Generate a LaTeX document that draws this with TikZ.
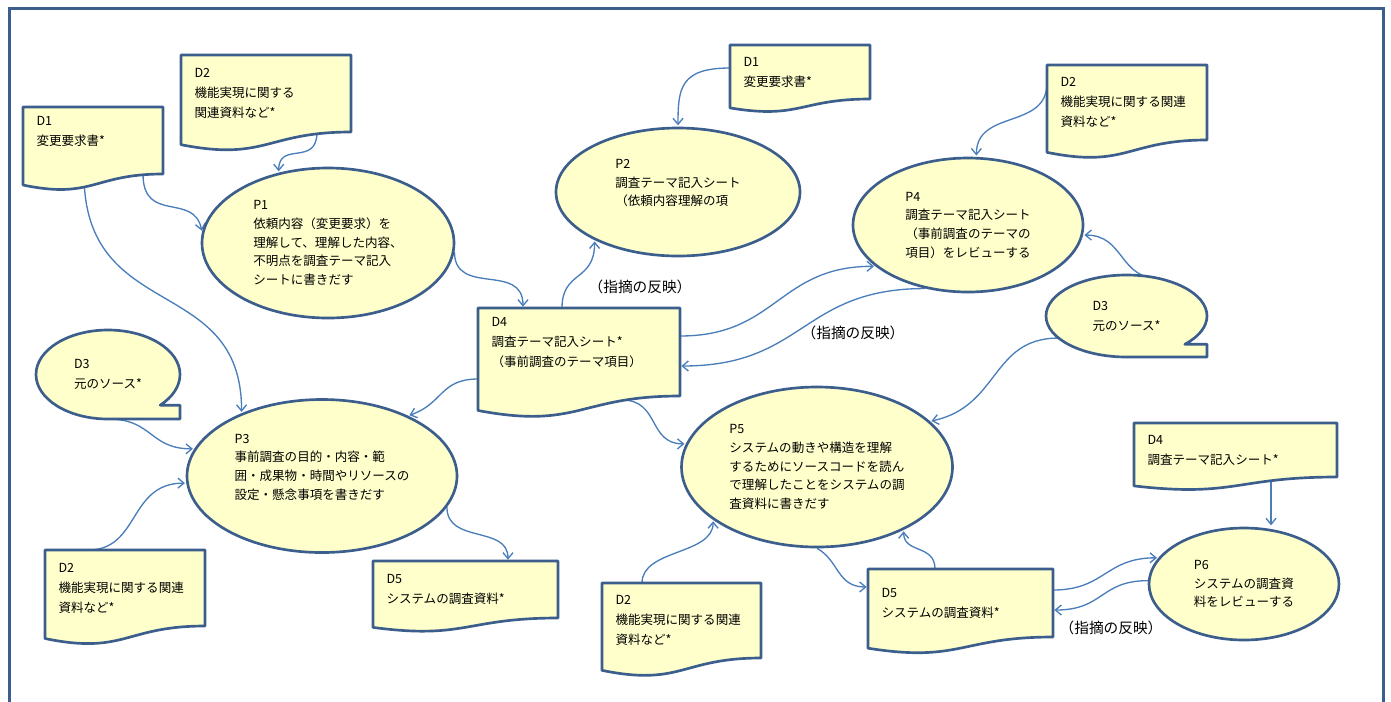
\documentclass[tikz,border=0pt]{standalone}
\usepackage{fontspec}
\setmainfont{Noto Sans CJK JP}
\usetikzlibrary{shapes.geometric, arrows.meta, calc}
\definecolor{lineblue}{HTML}{3B5E8C}
\definecolor{arrowblue}{HTML}{4A7EBB}
\definecolor{noteyellow}{HTML}{FFFFCC}
\pgfdeclarelayer{conn}
\pgfdeclarelayer{shapes}
\pgfsetlayers{conn,shapes,main}

\begin{document}
\begin{tikzpicture}[x=0.75pt, y=-0.75pt,
	proc/.style={ellipse, draw=lineblue, fill=noteyellow, line width=2pt, inner sep=0pt, align=left, font=\fontsize{9.4pt}{14pt}\selectfont},
	doc/.style={rectangle, anchor=north west, inner xsep=10.125pt, inner ysep=0pt, outer sep=0pt, align=left, font=\fontsize{9.4pt}{15pt}\selectfont},
	tape/.style={ellipse, inner sep=0pt, outer sep=0pt, align=left, font=\fontsize{9.4pt}{15pt}\selectfont},
	shapeline/.style={draw=lineblue, fill=noteyellow, line width=2pt, line join=round},
	flow/.style={draw=arrowblue, line width=1pt, -{Straight Barb[length=4.5pt, width=7.5pt]}, shorten >=1pt},
	fbtext/.style={font=\fontsize{11pt}{13pt}\selectfont, inner sep=0pt}]
	\path[use as bounding box, clip] (0,0) rectangle (1391,701);
	\draw[draw=lineblue, line width=2.25pt] (9,8) rectangle (1383,720);

	\node[proc, minimum width=189pt, minimum height=112.5pt] (P1) at (328,243) {P1\\依頼内容（変更要求）を\\理解して、理解した内容、\\不明点を調査テーマ記入\\シートに書きだす};
	\node[proc, minimum width=183pt, minimum height=96pt] (P2) at (678,192) {P2\\調査テーマ記入シート\\（依頼内容理解の項\\\mbox{}};
	\node[proc, minimum width=202.5pt, minimum height=114.75pt] (P3) at (322,476) {P3\\事前調査の目的・内容・範\\囲・成果物・時間やリソースの\\設定・懸念事項を書きだす\\\mbox{}};
	\node[proc, minimum width=172.5pt, minimum height=100.5pt] (P4) at (968,225) {P4\\調査テーマ記入シート\\（事前調査のテーマの\\項目）をレビューする};
	\node[proc, minimum width=203.25pt, minimum height=120pt] (P5) at (817,467) {P5\\システムの動きや構造を理解\\するためにソースコードを読ん\\で理解したことをシステムの調\\査資料に書きだす};
	\node[proc, minimum width=142.5pt, minimum height=84pt] (P6) at (1244,584) {P6\\システムの調査資\\料をレビューする};

	\node[doc, minimum width=105pt, minimum height=50.25pt, text width=84.75pt] (D1a) at (23,107) {D1\\変更要求書*\\\mbox{}};
	\node[doc, minimum width=127.5pt, minimum height=57.75pt, text width=107.25pt] (D2a) at (181,55) {D2\\機能実現に関する\\関連資料など*};
	\node[doc, minimum width=105pt, minimum height=40.5pt, text width=84.75pt] (D1b) at (730,45) {D1\\変更要求書*};
	\node[doc, minimum width=120pt, minimum height=56.25pt, text width=99.75pt] (D2b) at (1047,65) {D2\\機能実現に関する関連\\資料など*};
	\node[doc, minimum width=151.5pt, minimum height=66pt, text width=131.25pt] (D4) at (478,308) {D4\\調査テーマ記入シート*\\（事前調査のテーマ項目）\\\mbox{}};
	\node[doc, minimum width=120pt, minimum height=57pt, text width=99.75pt] (D2c) at (45,550) {D2\\機能実現に関する関連\\資料など*};
	\node[doc, minimum width=138.75pt, minimum height=42.75pt, text width=118.5pt] (D5a) at (373,561) {D5\\システムの調査資料*};
	\node[doc, minimum width=152.25pt, minimum height=40.5pt, text width=132pt] (D4c) at (1134,423) {D4\\調査テーマ記入シート*};
	\node[doc, minimum width=138.75pt, minimum height=51pt, text width=118.5pt] (D5b) at (868,569) {D5\\システムの調査資料*};
	\node[doc, minimum width=119.25pt, minimum height=56.25pt, text width=99pt] (D2d) at (602,583) {D2\\機能実現に関する関連\\資料など*};

	\node[tape, minimum width=108pt, minimum height=66.75pt] (D3a) at (108,374.5) {D3\\元のソース*};
	\node[tape, minimum width=120.75pt, minimum height=61.5pt] (D3b) at (1126.5,316) {D3\\元のソース*};

	\node[fbtext] (fb1) at (640,287) {（指摘の反映）};
	\node[fbtext] (fb2) at (853,333) {（指摘の反映）};
	\node[fbtext] (fb3) at (1111,628) {（指摘の反映）};

	\begin{pgfonlayer}{shapes}
		\foreach \d in {D1a,D2a,D1b,D2b,D4,D2c,D5a,D4c,D5b,D2d}
			\draw[shapeline] let \p1=(\d.north west), \p2=(\d.south east), \n1={\y1-\y2} in
				(\p1) -- (\x2,\y1) -- (\p2) .. controls ({(\x1+\x2)/2},\y2) and ({(\x1+\x2)/2},{\y2-0.381*\n1}) .. (\x1,{\y2-0.1646*\n1}) -- cycle;
		\foreach \d in {D3a,D3b}
			\draw[shapeline] let \p0=(\d.center), \p1=(\d.east), \p2=(\d.north), \n1={\x1-\x0}, \n2={\y2-\y0} in
				(\d.south) arc[start angle=270, end angle=-43.6, x radius={\n1*1pt}, y radius={\n2*1pt}] -- (\x1,{\y0-0.689*\n2}) -- (\x1,{\y0-\n2}) -- cycle;
	\end{pgfonlayer}

	\coordinate (d4out) at ([xshift=102.75pt]D4c.south west);
	\begin{pgfonlayer}{conn}
		\draw[flow] ([xshift=45.75pt]D1a.south west) .. controls +(0,150) and +(0,-140) .. (P3.142);
		\draw[flow] ([xshift=90pt]D1a.south west) .. controls +(0,50) and +(-8,-40) .. (P1.175);
		\draw[flow] ([xshift=102pt]D2a.south west) .. controls +(0,35) and +(0,-32) .. (P1.125);
		\draw[flow] (P1.-4) .. controls +(0,45) and +(0,-46) .. ([xshift=33.75pt]D4.north west);
		\draw[flow] ([xshift=63pt]D4.north west) .. controls +(0,-38) and +(0,42) .. (P2.210);
		\draw[flow] ([yshift=3pt]D1b.west) .. controls +(-50,0) and +(0,-38) .. (P2.north);
		\draw[flow] ([yshift=-13.5pt]D2b.north west) .. controls +(0,47) and +(0,-48) .. (P4.83);
		\draw[flow] ([yshift=12pt]D4.east) .. controls +(97,0) and +(-97,0) .. (P4.204);
		\draw[flow] (P4.236) .. controls +(-124,0) and +(125,0) .. ([yshift=-10.5pt]D4.east);
		\draw[flow] ([yshift=-20.25pt]D4.west) .. controls +(-38,0) and +(35,-12) .. (P3.35);
		\draw[flow] (D3a.south) .. controls +(45,0) and +(-45,0) .. (P3.168);
		\draw[flow] ([xshift=32.25pt]D2c.north west) .. controls +(52,0) and +(-58,0) .. (P3.183);
		\draw[flow] (P3.-14) .. controls +(0,37) and +(0,-36) .. ([xshift=101.25pt]D5a.north west);
		\draw[flow] ([xshift=108pt,yshift=-3pt]D4.south west) .. controls +(38,0) and +(-38,0) .. (P5.170);
		\draw[flow] (D3b.198) .. controls +(-68,0) and +(70,-15) .. (P5.22);
		\draw[flow] (D3b.47) .. controls +(-43,0) and +(42,0) .. (P4.-5);
		\draw[flow] ([xshift=30pt]D2d.north west) .. controls +(0,-34) and +(0,35) .. (P5.207);
		\draw[flow] (P5.south) .. controls +(22,12) and +(-31,0) .. ([yshift=12pt]D5b.west);
		\draw[flow] ([xshift=50.25pt]D5b.north west) .. controls +(0,-25) and +(0,24) .. (P5.-36);
		\draw[flow] ([yshift=9.75pt]D5b.east) .. controls +(52,0) and +(-53,0) .. (P6.163);
		\draw[flow] (P6.178) .. controls +(-48,0) and +(51,0) .. ([yshift=-5.25pt]D5b.east);
		\draw[flow] (d4out) -- (d4out |- P6.north);
	\end{pgfonlayer}
\end{tikzpicture}
\end{document}
